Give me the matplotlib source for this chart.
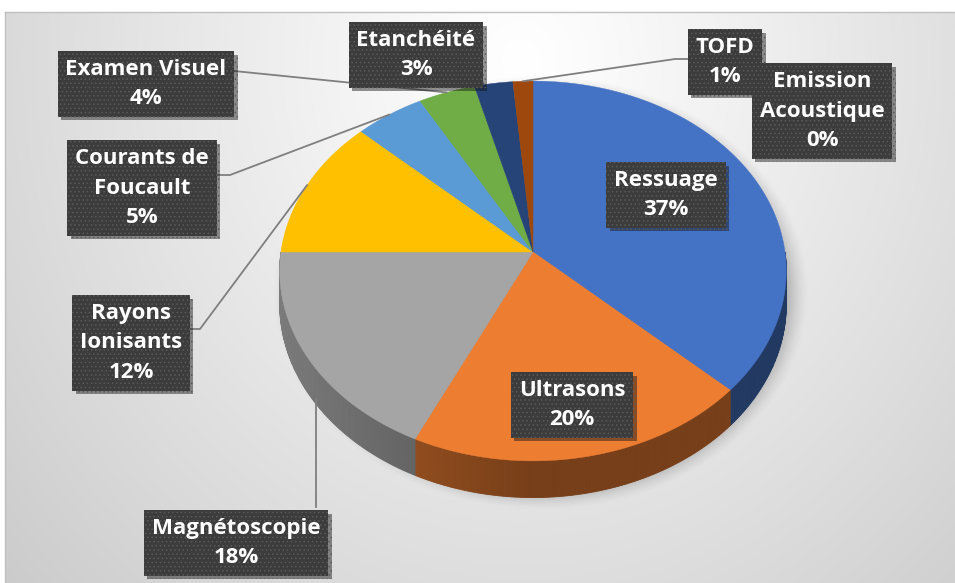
import numpy as np
import matplotlib.pyplot as plt
import matplotlib.patheffects as pe
from matplotlib.patches import Polygon
from matplotlib.colors import to_rgb

# données du graphique (%)
categories = ['Ressuage', 'Ultrasons', 'Magnétoscopie', 'Rayons\nIonisants',
              'Courants de\nFoucault', 'Examen Visuel', 'Etanchéité', 'TOFD',
              'Emission\nAcoustique']
values = [37.0, 20.0, 18.0, 12.0, 4.9, 4.0, 2.7, 1.4, 0.0]
colors = ['#4472C4', '#ED7D31', '#A5A5A5', '#FFC000', '#5B9BD5',
          '#70AD47', '#264478', '#9E480E', '#636363']

# mise en page (pixels)
W, H = 955, 583
cx, cy = 533, 252          # centre du camembert
A, B = 252, 188            # demi-axes
k = 0.10                   # perspective
D = 33                     # épaisseur
label_pos = [(666, 195), (572, 405), (236, 543), (131, 343), (142, 188),
             (146, 84), (416, 55), (725, 62), (822, 111)]
# points de départ des lignes de rappel (bord des étiquettes)
leader_from = [None, None, 'down', [(190, 329), (200, 329)],
               [(217, 175), (230, 175)], [(234, 71)], None,
               [(688, 59), (675, 59)], None]

plt.rcParams['hatch.color'] = '#575757'
plt.rcParams['hatch.linewidth'] = 0.6


def proj(phi, z=0.0):
    t = np.radians(phi)
    X, Y = np.cos(t), np.sin(t)
    w = 1 + k * Y
    return cx + A * X / w, cy - B * Y / w + z / w


fig = plt.figure(figsize=(W / 100, H / 100), dpi=100)
ax = fig.add_axes([0, 0, 1, 1])
ax.set_xlim(0, W)
ax.set_ylim(H, 0)
ax.axis('off')

# fond dégradé
x0, y0 = 5, 12
xx, yy = np.meshgrid(np.arange(x0, W), np.arange(y0, H))
d = np.sqrt(((xx - 520) / 620) ** 2 + ((yy - 60) / 700) ** 2)
bg = 1.0 - 0.18 * np.clip(d, 0, 1.3) ** 1.1
ax.imshow(np.dstack([bg, bg, bg]), extent=(x0, W, H, y0), origin='upper',
          aspect='auto', zorder=0)
ax.plot([x0, W], [y0, y0], color='#c0c0c0', lw=1, zorder=1)
ax.plot([x0, x0], [y0, H], color='#c0c0c0', lw=1, zorder=1)

# ombre portée
r = np.sqrt(((xx - 540) / 268) ** 2 + ((yy - 292) / 218) ** 2)
sh = 0.38 * np.clip((1.0 - r) / 0.12, 0, 1) ** 1.5
shadow = np.zeros(xx.shape + (4,))
shadow[..., 3] = sh
ax.imshow(shadow, extent=(x0, W, H, y0), origin='upper', aspect='auto', zorder=1)

total = sum(values)
spans = [360 * v / total for v in values]
starts = 90 - np.concatenate([[0], np.cumsum(spans)[:-1]])

# flancs (moitié avant)
for s, sp, c in zip(starts, spans, colors):
    if sp <= 0:
        continue
    phis = np.linspace(s, s - sp, max(int(sp * 2), 2))
    base = np.array(to_rgb(c))
    for p0, p1 in zip(phis[:-1], phis[1:]):
        pm = (p0 + p1) / 2
        if np.sin(np.radians(pm)) > 0:
            continue
        f = 0.5 + 0.25 * max(0.0, -np.cos(np.radians(pm)))
        col = base * f
        pts = [proj(p0), proj(p1), proj(p1, D), proj(p0, D)]
        ax.add_patch(Polygon(pts, closed=True, facecolor=col, edgecolor=col,
                             lw=0.6, zorder=2))

# faces supérieures
for s, sp, c in zip(starts, spans, colors):
    if sp <= 0:
        continue
    phis = np.linspace(s, s - sp, max(int(sp * 3), 2))
    pts = [(cx, cy)] + [proj(p) for p in phis]
    ax.add_patch(Polygon(pts, closed=True, facecolor=c, edgecolor=c,
                         lw=0.3, zorder=3))

# étiquettes
for i, (name, v) in enumerate(zip(categories, values)):
    pct = round(100 * v / total)
    lx, ly = label_pos[i]
    mid = starts[i] - spans[i] / 2
    lf = leader_from[i]
    if lf == 'down':
        ax_, ay_ = proj(mid, D)
        ax_ += 8
        ax.plot([ax_, ax_], [ay_ + 6, 507], color='#7f7f7f', lw=1.3, zorder=4)
    elif lf is not None:
        ax_, ay_ = proj(mid)
        pts = lf + [(ax_, ay_)]
        ax.plot([p[0] for p in pts], [p[1] for p in pts], color='#7f7f7f',
                lw=1.3, zorder=4)
    t = ax.text(lx, ly, f'{name}\n{pct}%', ha='center', va='center',
                color='white', fontsize=16, fontweight='bold',
                family=['Open Sans', 'DejaVu Sans'], linespacing=1.52,
                zorder=10 + i,
                bbox=dict(boxstyle='square,pad=0.35', facecolor='#3c3c3c',
                          edgecolor='#5a5a5a', linewidth=0, hatch='....'))
    t.get_bbox_patch().set_path_effects(
        [pe.SimplePatchShadow(offset=(2.5, -2.5), alpha=0.45), pe.Normal()])

fig.savefig('out.png', dpi=100, facecolor='white')
